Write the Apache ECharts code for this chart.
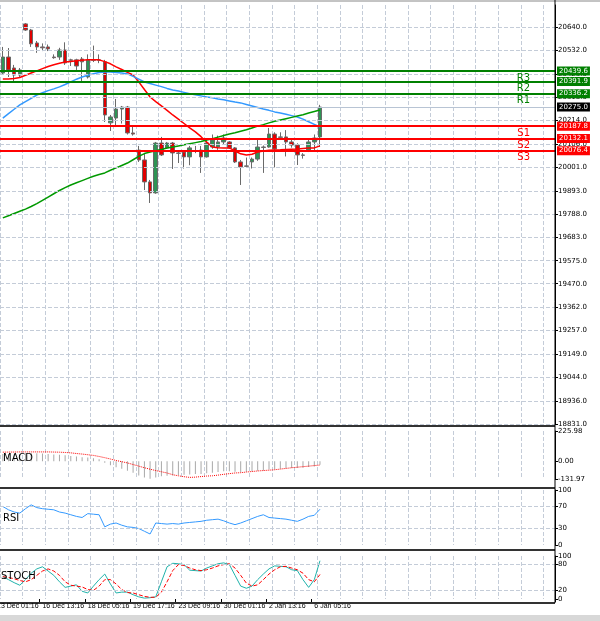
<!DOCTYPE html>
<html><head><meta charset="utf-8">
<script src="https://cdn.jsdelivr.net/npm/echarts@6/dist/echarts.min.js"></script>
<style>html,body{margin:0;padding:0;background:#fff}#c{width:600px;height:621px}</style>
</head><body><div id="c"></div>
<script>
// candles: [open, close, low, high]
const candles = [
[20430,20503,20421,20549],[20503,20444,20412,20544],[20453,20421,20389,20467],[20421,20444,20412,20453],
[20654,20626,20622,20658],[20626,20563,20549,20631],[20567,20549,20522,20576],[20549,20545,20530,20565],
[20549,20540,20530,20560],[20503,20500,20495,20515],[20503,20535,20490,20545],[20535,20476,20467,20570],
[20490,20488,20462,20495],[20490,20462,20444,20495],[20494,20481,20389,20503],[20412,20490,20405,20515],
[20490,20488,20480,20555],[20490,20488,20475,20515],[20481,20239,20207,20490],[20203,20230,20166,20239],
[20225,20266,20184,20312],[20266,20275,20200,20280],[20275,20157,20150,20280],[20157,20152,20145,20185],
[20079,20034,20025,20098],[20034,19934,19897,20061],[19934,19884,19838,19943],[19884,20111,19880,20116],
[20111,20057,20052,20139],[20089,20111,20084,20116],[20111,20066,19993,20116],[20066,20064,20020,20075],
[20070,20048,19995,20075],[20048,20089,20010,20098],[20075,20073,20065,20098],[20079,20048,19975,20098],
[20048,20111,20045,20125],[20093,20125,20085,20150],[20093,20116,20080,20145],[20116,20134,20105,20150],
[20116,20089,20084,20120],[20089,20025,20020,20093],[20025,20002,19920,20034],[20007,20005,20000,20045],
[20025,20038,19995,20045],[20038,20093,20030,20130],[20093,20091,19975,20100],[20093,20152,20090,20180],
[20152,20084,20000,20160],[20139,20137,20125,20160],[20139,20116,20050,20170],[20116,20102,20090,20125],
[20102,20057,20011,20110],[20057,20055,20040,20065],[20079,20116,20070,20125],[20116,20134,20075,20150],
[20139,20275,20093,20285]];
const maRed = [20403,20403,20405,20410,20420,20430,20440,20450,20460,20468,20475,20480,20483,20486,20488,20490,20490,20490,20482,20472,20458,20446,20433,20421,20390,20355,20321,20300,20280,20260,20239,20220,20200,20180,20162,20140,20115,20093,20090,20089,20089,20075,20062,20057,20060,20070,20075,20078,20079,20080,20082,20083,20084,20086,20088,20089,20098];
const maBlue = [20225,20245,20265,20285,20300,20315,20330,20340,20350,20358,20367,20378,20390,20402,20412,20420,20427,20432,20435,20435,20432,20430,20426,20415,20402,20389,20382,20375,20368,20360,20353,20348,20342,20336,20331,20326,20321,20317,20312,20308,20303,20298,20294,20287,20280,20273,20266,20260,20253,20248,20242,20236,20230,20220,20208,20196,20184];
const maGreen = [19770,19780,19790,19800,19810,19822,19835,19850,19865,19880,19895,19908,19920,19930,19940,19950,19960,19968,19975,19987,19998,20009,20020,20035,20050,20063,20070,20076,20082,20088,20093,20098,20103,20108,20113,20118,20125,20131,20138,20145,20152,20158,20165,20172,20180,20188,20195,20203,20210,20216,20222,20228,20234,20240,20248,20255,20262];
const macdHist = [55,55,52,50,60,62,60,58,55,50,48,45,40,35,30,28,22,15,-10,-30,-45,-55,-70,-85,-105,-120,-130,-120,-112,-108,-105,-103,-100,-98,-95,-95,-90,-85,-80,-75,-75,-78,-80,-78,-75,-70,-68,-62,-60,-55,-52,-50,-50,-48,-42,-38,-25];
const macdSignal = [68,69,69,70,70,70,70,70,70,69,68,66,63,58,54,49,44,36,27,17,6,-3,-12,-24,-36,-48,-59,-69,-78,-87,-100,-108,-115,-120,-118,-114,-110,-108,-103,-97,-92,-87,-85,-80,-76,-72,-69,-66,-63,-58,-53,-48,-44,-40,-36,-32,-28];
const rsi = [70,64,60,58,66,73,68,66,65,64,60,58,55,52,50,57,56,55,33,38,40,36,33,32,30,25,20,40,39,38,39,38,40,41,42,43,45,46,47,44,40,37,40,44,48,52,55,50,49,48,47,45,43,47,52,54,65];
const stochK = [52,45,38,32,45,60,70,75,65,55,40,27,30,33,18,14,30,45,58,35,14,16,16,10,5,2,3,5,40,75,83,82,80,67,66,65,72,77,82,84,80,55,30,25,30,45,58,70,77,76,75,68,66,45,27,45,89];
const stochD = [52,50,47,43,40,45,55,65,70,65,55,40,32,30,28,22,20,30,45,45,35,22,15,14,10,6,4,4,16,40,66,80,78,72,68,66,68,72,77,80,82,72,55,37,30,33,45,58,68,75,76,72,68,60,45,40,57];
const levels = [
 {name:'R3', value:20439.6, kind:'R'},{name:'R2', value:20391.9, kind:'R'},{name:'R1', value:20336.2, kind:'R'},
 {name:'S1', value:20187.8, kind:'S'},{name:'S2', value:20132.1, kind:'S'},{name:'S3', value:20076.4, kind:'S'}];
const lastPrice = 20275.0;
const priceTicks = [18831,18936,19044,19149,19257,19362,19470,19575,19683,19788,19893,20001,20106,20214,20318,20423,20532,20640];
const firstDateLabel = '13 Dec 01:16';
const dateLabels = ['16 Dec 13:16','18 Dec 05:16','19 Dec 17:16','23 Dec 09:16','30 Dec 01:16','2 Jan 13:16','6 Jan 05:16'];
const dateIdx = [7,15,23,31,39,47,55];
const nCats = 98;

const cats = []; for (let i=0;i<nCats;i++) cats.push(String(i));
const labelOf = {}; dateIdx.forEach((k,j)=>labelOf[k]=dateLabels[j]);
const F = 'DejaVu Sans';
const grids = [
 {left:0,right:45,top:5,height:419},
 {left:0,right:45,top:431,height:48},
 {left:0,right:45,top:490,height:55},
 {left:0,right:45,top:556,height:43}];
const splitX = {show:true,interval:3,lineStyle:{color:'#c4ccd8',type:'dashed',width:1}};
const xAxes = grids.map((g,i)=>({type:'category',gridIndex:i,data:cats,boundaryGap:true,
  axisLine:{show:false},axisTick:{show:i===3,interval:(k)=>labelOf[k]!==undefined,length:3,lineStyle:{color:'#000'}},
  axisLabel:{show:i===3,interval:(k)=>labelOf[k]!==undefined,formatter:(v,k)=>labelOf[k]||'',align:'left',fontSize:7,fontFamily:'Liberation Sans',color:'#000',margin:4,hideOverlap:false},
  splitLine:splitX}));
const yBase = {position:'right',axisLine:{show:true,lineStyle:{color:'#000'}},axisTick:{show:true,length:3,lineStyle:{color:'#000'}},splitLine:{show:false},
  axisLabel:{fontSize:7,fontFamily:F,color:'#000',margin:3}};
const yAxes = [
 Object.assign({},yBase,{type:'value',gridIndex:0,min:18831,max:20740,axisLabel:Object.assign({},yBase.axisLabel,{customValues:priceTicks,formatter:v=>v.toFixed(1)}),axisTick:Object.assign({},yBase.axisTick,{customValues:priceTicks})}),
 Object.assign({},yBase,{type:'value',gridIndex:1,min:-131.97,max:225.98,axisLabel:Object.assign({},yBase.axisLabel,{customValues:[-131.97,0,225.98],formatter:v=>v.toFixed(2)}),axisTick:Object.assign({},yBase.axisTick,{customValues:[-131.97,0,225.98]})}),
 Object.assign({},yBase,{type:'value',gridIndex:2,min:0,max:100,axisLabel:Object.assign({},yBase.axisLabel,{customValues:[0,30,70,100]}),axisTick:Object.assign({},yBase.axisTick,{customValues:[0,30,70,100]})}),
 Object.assign({},yBase,{type:'value',gridIndex:3,min:0,max:100,axisLabel:Object.assign({},yBase.axisLabel,{customValues:[0,20,80,100]}),axisTick:Object.assign({},yBase.axisTick,{customValues:[0,20,80,100]})})];

const dashGrid = {color:'#c4ccd8',type:'dashed',width:1};
const levelLines = levels.map(l=>({yAxis:l.value,lineStyle:{color:l.kind==='R'?'#008000':'#ff0000',width:2,type:'solid'},
  label:{show:true,position:'insideEndBottom',formatter:l.name,color:l.kind==='R'?'#008000':'#ff0000',fontSize:10,fontFamily:F,distance:[25,2]}}));
const boxLines = levels.map(l=>({yAxis:l.value,lineStyle:{width:1,color:'rgba(0,0,0,0)'},
  label:{show:true,position:'end',formatter:l.value.toFixed(1),color:'#fff',backgroundColor:l.kind==='R'?'#008000':'#ff0000',fontSize:7,fontFamily:F,padding:[1,2],distance:2}}));
boxLines.push({yAxis:lastPrice,lineStyle:{width:1,color:'rgba(0,0,0,0)'},label:{show:true,position:'end',formatter:lastPrice.toFixed(1),color:'#fff',backgroundColor:'#000',fontSize:7,fontFamily:F,padding:[1,2],distance:2}});

const series = [
 {type:'line',xAxisIndex:0,yAxisIndex:0,data:[],silent:true,markLine:{symbol:'none',silent:true,animation:false,label:{show:false},lineStyle:dashGrid,data:priceTicks.map(v=>({yAxis:v}))}},
 {type:'candlestick',xAxisIndex:0,yAxisIndex:0,data:candles,barWidth:4,
  itemStyle:{color:'#2e9455',color0:'#e00000',borderColor:'#6a6a6a',borderColor0:'#6a6a6a',borderWidth:1},
  markLine:{symbol:'none',silent:true,animation:false,data:[{yAxis:lastPrice,lineStyle:{color:'#b8c4d4',width:1,type:'solid'},label:{show:false}}].concat(levelLines)}},
 {type:'line',xAxisIndex:0,yAxisIndex:0,data:maRed,showSymbol:false,lineStyle:{color:'#ff0000',width:1.5},itemStyle:{color:'#ff0000'}},
 {type:'line',xAxisIndex:0,yAxisIndex:0,data:maBlue,showSymbol:false,lineStyle:{color:'#3399ff',width:1.5},itemStyle:{color:'#3399ff'}},
 {type:'line',xAxisIndex:0,yAxisIndex:0,data:maGreen,showSymbol:false,lineStyle:{color:'#009900',width:1.5},itemStyle:{color:'#009900'},
  markLine:{symbol:'none',silent:true,animation:false,z:20,data:boxLines}},
 {type:'bar',xAxisIndex:1,yAxisIndex:1,data:macdHist,barWidth:1,itemStyle:{color:'#a8a8a8'}},
 {type:'line',xAxisIndex:1,yAxisIndex:1,data:macdSignal,showSymbol:false,lineStyle:{color:'#ff0000',width:1,type:'dotted'}},
 {type:'line',xAxisIndex:2,yAxisIndex:2,data:rsi,showSymbol:false,lineStyle:{color:'#3399ff',width:1},
  markLine:{symbol:'none',silent:true,animation:false,label:{show:false},lineStyle:dashGrid,data:[{yAxis:30},{yAxis:70}]}},
 {type:'line',xAxisIndex:3,yAxisIndex:3,data:stochK,showSymbol:false,lineStyle:{color:'#20b2aa',width:1},
  markLine:{symbol:'none',silent:true,animation:false,label:{show:false},lineStyle:dashGrid,data:[{yAxis:20},{yAxis:80}]}},
 {type:'line',xAxisIndex:3,yAxisIndex:3,data:stochD,showSymbol:false,lineStyle:{color:'#ff0000',width:1,type:'dashed'}}
];
const sep = (y)=>({type:'line',shape:{x1:0,y1:y,x2:555,y2:y},style:{stroke:'#333',lineWidth:2},z:10});
const chart = echarts.init(document.getElementById('c'),null,{renderer:'canvas'});
chart.setOption({animation:false,grid:grids,xAxis:xAxes,yAxis:yAxes,series:series,
 graphic:[sep(426),sep(488),sep(550),sep(603),
  {type:'line',shape:{x1:555,y1:0,x2:555,y2:603},style:{stroke:'#000',lineWidth:1},z:10},
  {type:'line',shape:{x1:0,y1:1,x2:600,y2:1},style:{stroke:'#888',lineWidth:1}},
  {type:'text',x:-3,y:603,style:{text:firstDateLabel,fontSize:7,fontFamily:'Liberation Sans',fill:'#000'},z:11},
  {type:'text',left:3,top:453,style:{text:'MACD',fontSize:10,fontFamily:F,fill:'#000'},z:11},
  {type:'text',left:3,top:513,style:{text:'RSI',fontSize:10,fontFamily:F,fill:'#000'},z:11},
  {type:'text',left:1,top:571,style:{text:'STOCH',fontSize:10,fontFamily:F,fill:'#000'},z:11},
  {type:'rect',shape:{x:0,y:615,width:600,height:6},style:{fill:'#d8d8d8'}}
 ]});
</script></body></html>
